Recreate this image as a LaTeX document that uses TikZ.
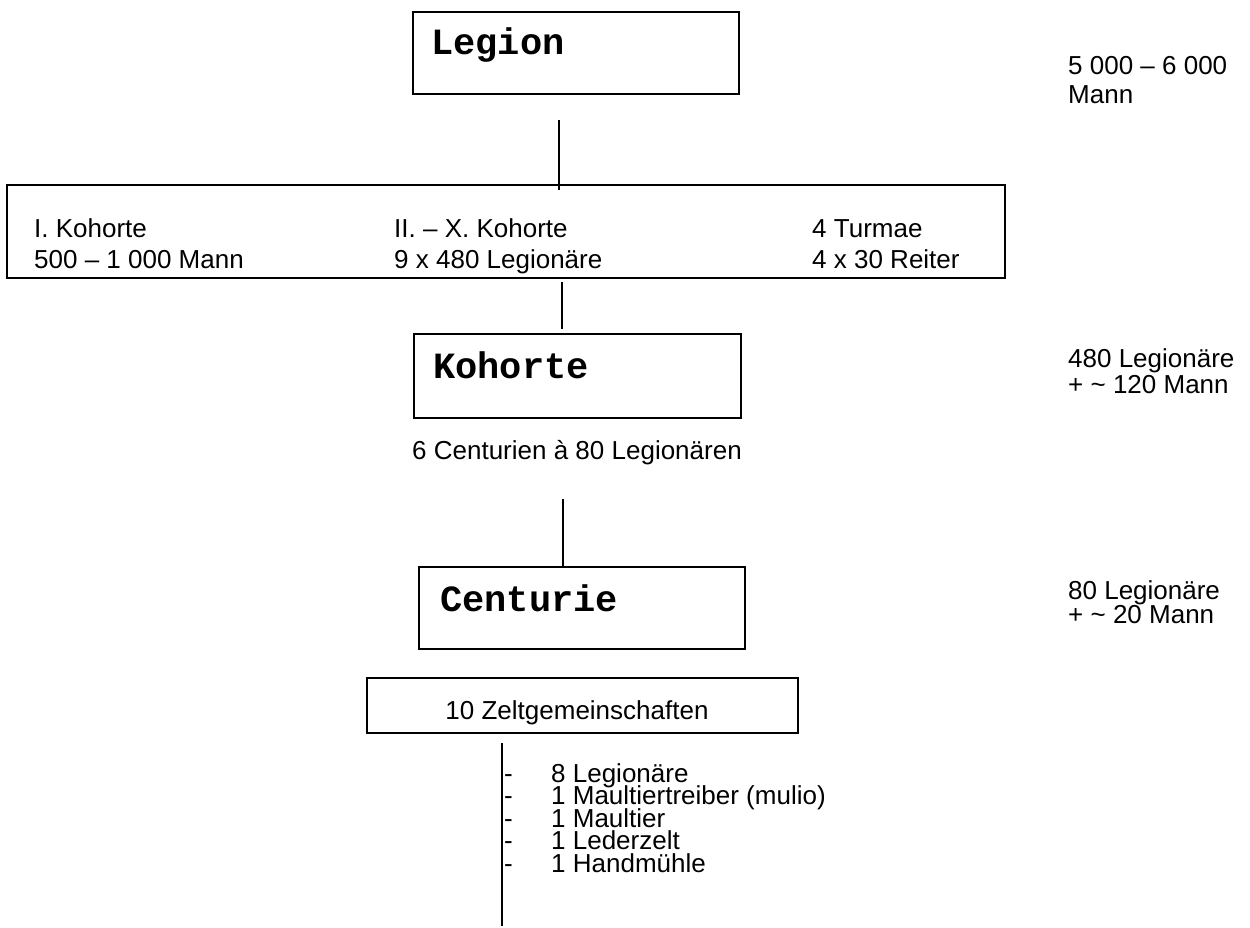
\documentclass[tikz,border=0pt]{standalone}
\usepackage{fontspec}
\setmainfont{Liberation Sans}
\newfontfamily\courfont{Liberation Mono}
\begin{document}
\begin{tikzpicture}[x=1pt,y=-1pt,
  box/.style={draw, line width=2.6pt, rectangle, inner sep=0pt},
  lbl/.style={font=\fontsize{26}{30}\selectfont, anchor=base west, inner sep=0pt},
  ttl/.style={font=\fontsize{37}{40}\selectfont\courfont\bfseries, anchor=base west, inner sep=0pt},
  conn/.style={line width=2.4pt}]
\useasboundingbox (0,0) rectangle (1250,928);
% boxes
\node[box, minimum width=326pt, minimum height=82pt] (legion) at (576,53) {};
\node[box, minimum width=998pt, minimum height=93pt] (bracket) at (506,231.5) {};
\node[box, minimum width=327pt, minimum height=84pt] (kohorte) at (577.5,376) {};
\node[box, minimum width=326pt, minimum height=82pt] (centurie) at (582,608) {};
\node[box, minimum width=431pt, minimum height=55pt] (zelt) at (582.5,705.5) {};
% titles
\node[ttl] (tlegion) at (431,55) {Legion};
\node[ttl] (tkohorte) at (433,378) {Kohorte};
\node[ttl] (tcenturie) at (440,611) {Centurie};
% bracket row texts
\node[lbl] (k1a) at (34,237) {I. Kohorte};
\node[lbl] (k1b) at (34,269) {500 – 1 000 Mann};
\node[lbl] (k2a) at (394,237) {II. – X. Kohorte};
\node[lbl] (k2b) at (394,269) {9 x 480 Legionäre};
\node[lbl] (k3a) at (812,237) {4 Turmae};
\node[lbl] (k3b) at (812,269) {4 x 30 Reiter};
% centurien
\node[lbl, anchor=base] (cent) at (577,459) {6 Centurien à 80 Legionären};
\node[lbl, anchor=base] (zt) at (577,719) {10 Zeltgemeinschaften};
% right column
\node[lbl] (r1a) at (1068,75) {5 000 – 6 000};
\node[lbl] (r1b) at (1068,104) {Mann};
\node[lbl] (r2a) at (1068,367) {480 Legionäre};
\node[lbl] (r2b) at (1068,393) {+ \char"007E{} 120 Mann};
\node[lbl] (r3a) at (1068,599) {80 Legionäre};
\node[lbl] (r3b) at (1068,623) {+ \char"007E{} 20 Mann};
% list
\foreach \t [count=\i] in {8 Legionäre,1 Maultiertreiber (mulio),1 Maultier,1 Lederzelt,1 Handmühle}{
  \node[lbl] (d\i) at (504,{773+22.6*(\i-1)+9}) {-};
  \node[lbl] (l\i) at (551,{773+22.6*(\i-1)+9}) {\t};
}
% connectors
\coordinate (c1) at (559,120);
\draw[conn] (c1) -- ([yshift=-6pt]c1 |- bracket.north);
\coordinate (c2) at (562,282);
\draw[conn] (c2) -- ([yshift=4pt]c2 |- kohorte.north);
\coordinate (c3) at (563,499);
\draw[conn] (c3) -- (c3 |- centurie.north);
\coordinate (c4a) at (502,743);
\coordinate (c4b) at (502,926);
\draw[conn] (c4a) -- (c4b);
\end{tikzpicture}
\end{document}
